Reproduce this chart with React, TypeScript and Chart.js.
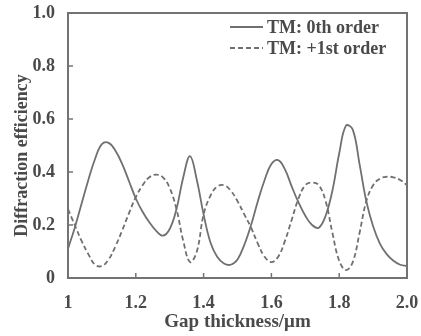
import { useEffect, useRef } from 'react';
import { Chart, registerables } from 'chart.js';

Chart.register(...registerables);

const gapThickness = [
  1.0, 1.02, 1.04, 1.06, 1.08, 1.1, 1.12, 1.14, 1.16, 1.18,
  1.2, 1.22, 1.24, 1.26, 1.28, 1.3, 1.32, 1.34, 1.36, 1.38,
  1.4, 1.42, 1.44, 1.46, 1.48, 1.5, 1.52, 1.54, 1.56, 1.58,
  1.6, 1.62, 1.64, 1.66, 1.68, 1.7, 1.72, 1.74, 1.76, 1.78,
  1.8, 1.82, 1.84, 1.86, 1.88, 1.9, 1.92, 1.94, 1.96, 1.98, 2.0,
];

const tm0thOrder = [
  0.11, 0.19, 0.28, 0.37, 0.45, 0.505, 0.51, 0.48, 0.43, 0.365,
  0.3, 0.25, 0.21, 0.178, 0.16, 0.185, 0.26, 0.38, 0.46, 0.37,
  0.24, 0.135, 0.08, 0.055, 0.05, 0.07, 0.125, 0.2, 0.29, 0.37,
  0.43, 0.445, 0.41, 0.345, 0.285, 0.235, 0.2, 0.19, 0.235, 0.33,
  0.47, 0.575, 0.56, 0.43, 0.29, 0.195, 0.13, 0.09, 0.065, 0.05, 0.045,
];

const tm1stOrder = [
  0.26, 0.2, 0.14, 0.09, 0.05, 0.045, 0.07, 0.12, 0.18, 0.245,
  0.305, 0.35, 0.38, 0.39, 0.38, 0.34, 0.26, 0.14, 0.06, 0.1,
  0.24, 0.31, 0.345, 0.35, 0.33, 0.29, 0.24, 0.19, 0.13, 0.08,
  0.06, 0.08, 0.14, 0.22, 0.3, 0.35, 0.36, 0.35, 0.29, 0.17,
  0.065, 0.03, 0.06, 0.17, 0.29, 0.35, 0.375, 0.382, 0.38, 0.37, 0.35,
];

const seriesLabels = ['TM: 0th order', 'TM: +1st order'];
const xTickValues = [1, 1.2, 1.4, 1.6, 1.8, 2.0];
const xTickLabels = ['1', '1.2', '1.4', '1.6', '1.8', '2.0'];
const yTickValues = [0, 0.2, 0.4, 0.6, 0.8, 1.0];
const yTickLabels = ['0', '0.2', '0.4', '0.6', '0.8', '1.0'];
const xTitle = 'Gap thickness/\u03bcm';
const yTitle = 'Diffraction efficiency';

const FONT = '"Liberation Serif", "Times New Roman", serif';
const TEXT = '#4a4a4a';
const LINE = '#707070';
const AXIS = '#737373';

const framePlugin = {
  id: 'frameAndLegend',
  afterDraw(chart: any) {
    const ctx = chart.ctx;
    const { left, right, top, bottom } = chart.chartArea;
    const xs = chart.scales.x;
    const ys = chart.scales.y;
    ctx.save();
    ctx.strokeStyle = AXIS;
    ctx.lineWidth = 2;
    ctx.setLineDash([]);
    ctx.strokeRect(left, top, right - left, bottom - top);
    ctx.lineWidth = 1.5;
    ctx.beginPath();
    xs.ticks.forEach((t: any) => {
      const px = xs.getPixelForValue(t.value);
      ctx.moveTo(px, bottom);
      ctx.lineTo(px, bottom - 5);
    });
    ys.ticks.forEach((t: any) => {
      const py = ys.getPixelForValue(t.value);
      ctx.moveTo(left, py);
      ctx.lineTo(left + 5, py);
    });
    ctx.stroke();

    // legend
    ctx.font = `bold 18px ${FONT}`;
    ctx.textBaseline = 'middle';
    ctx.textAlign = 'left';
    chart.data.datasets.forEach((ds: any, i: number) => {
      const y = top + 14 + i * 21;
      ctx.strokeStyle = ds.borderColor;
      ctx.lineWidth = ds.borderWidth;
      ctx.setLineDash(ds.borderDash || []);
      ctx.beginPath();
      ctx.moveTo(right - 177, y);
      ctx.lineTo(right - 144, y);
      ctx.stroke();
      ctx.setLineDash([]);
      ctx.fillStyle = TEXT;
      ctx.fillText(ds.label, right - 140, y + 1);
    });

    // y title
    ctx.font = `bold 18px ${FONT}`;
    ctx.translate(22, (top + bottom) / 2 + 10);
    ctx.rotate(-Math.PI / 2);
    ctx.textAlign = 'center';
    ctx.fillStyle = TEXT;
    ctx.fillText(yTitle, 0, 0);
    ctx.restore();
  },
};

export default function App() {
  const ref = useRef<HTMLCanvasElement | null>(null);

  useEffect(() => {
    document.body.style.margin = '0';
    const canvas = ref.current;
    if (!canvas) return;
    const chart = new Chart(canvas, {
      type: 'line',
      data: {
        datasets: [
          {
            label: seriesLabels[0],
            data: gapThickness.map((x, i) => ({ x, y: tm0thOrder[i] })),
            borderColor: LINE,
            borderWidth: 1.8,
            pointRadius: 0,
            tension: 0.4,
            fill: false,
          },
          {
            label: seriesLabels[1],
            data: gapThickness.map((x, i) => ({ x, y: tm1stOrder[i] })),
            borderColor: LINE,
            borderWidth: 1.8,
            borderDash: [5, 3],
            pointRadius: 0,
            tension: 0.4,
            fill: false,
          },
        ],
      },
      options: {
        animation: false,
        responsive: false,
        maintainAspectRatio: false,
        layout: { padding: { top: 13, right: 14, left: 0, bottom: 0 } },
        plugins: {
          legend: { display: false },
          tooltip: { enabled: false },
        },
        scales: {
          x: {
            type: 'linear',
            min: 1,
            max: 2,
            grid: { display: false },
            border: { display: false },
            afterBuildTicks: (s: any) => {
              s.ticks = xTickValues.map((v) => ({ value: v }));
            },
            afterFit: (s: any) => {
              s.height = 58;
              s.paddingRight = 0;
              s.paddingLeft = 0;
            },
            ticks: {
              padding: 7,
              color: TEXT,
              font: { family: FONT, size: 18, weight: 'bold' },
              maxRotation: 0,
              callback: (v: any) => {
                const i = xTickValues.findIndex((t) => Math.abs(t - Number(v)) < 1e-9);
                return i >= 0 ? xTickLabels[i] : '';
              },
            },
            title: {
              display: true,
              text: xTitle,
              color: TEXT,
              font: { family: FONT, size: 19, weight: 'bold' },
              padding: { top: 4, bottom: 3 },
            },
          },
          y: {
            type: 'linear',
            min: 0,
            max: 1,
            grid: { display: false },
            border: { display: false },
            afterBuildTicks: (s: any) => {
              s.ticks = yTickValues.map((v) => ({ value: v }));
            },
            afterFit: (s: any) => {
              s.width = 68;
              s.paddingTop = 0;
              s.paddingBottom = 0;
            },
            ticks: {
              padding: 5,
              color: TEXT,
              font: { family: FONT, size: 18, weight: 'bold' },
              callback: (v: any) => {
                const i = yTickValues.findIndex((t) => Math.abs(t - Number(v)) < 1e-9);
                return i >= 0 ? yTickLabels[i] : '';
              },
            },
            title: { display: false },
          },
        },
      },
      plugins: [framePlugin],
    });
    return () => chart.destroy();
  }, []);

  return (
    <div style={{ width: 421, height: 336 }}>
      <canvas ref={ref} width={421} height={336} style={{ display: 'block' }} />
    </div>
  );
}
